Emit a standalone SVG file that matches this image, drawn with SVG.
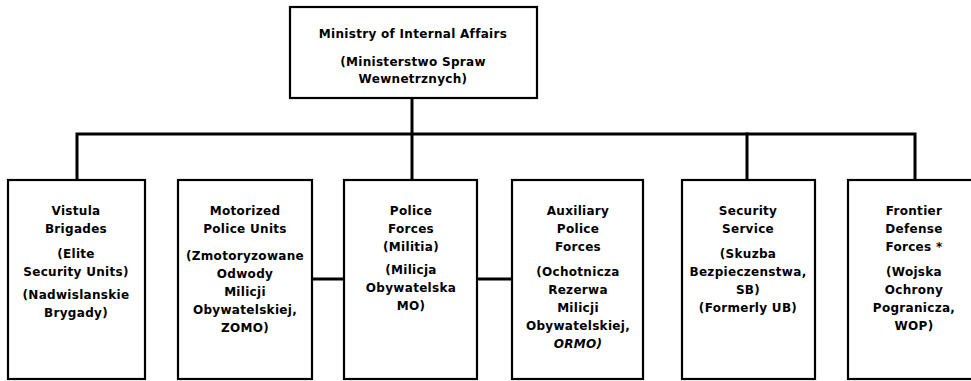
<svg xmlns="http://www.w3.org/2000/svg" width="971" height="381" viewBox="0 0 971 381">
<style>
.bg{fill:#fff}
.box{fill:#fff;stroke:#000;stroke-width:2.2}
.ln{fill:none;stroke:#000;stroke-width:3;stroke-linecap:square}
text{font-family:"DejaVu Sans","Liberation Sans",sans-serif;font-weight:bold;font-size:12px;fill:#000;text-anchor:middle;letter-spacing:0.3px}
.it{font-style:italic}
</style>
<rect class="bg" x="0" y="0" width="971" height="381"/>
<g id="connectors">
<path class="ln" d="M412,98 V180"/>
<path class="ln" d="M77,180 V134 H915 V180"/>
<path class="ln" d="M747,134 V180"/>
<path class="ln" d="M312,279 H344"/>
<path class="ln" d="M477,279 H512"/>
</g>
<g id="ministry">
<rect class="box" x="290" y="7" width="247" height="91"/>
<text x="413" y="38">Ministry of Internal Affairs</text>
<text x="413" y="66">(Ministerstwo Spraw</text>
<text x="413" y="83">Wewnetrznych)</text>
</g>
<g id="vistula">
<rect class="box" x="8" y="180" width="137" height="199"/>
<text x="76" y="215">Vistula</text>
<text x="76" y="233">Brigades</text>
<text x="76" y="258">(Elite</text>
<text x="76" y="276">Security Units)</text>
<text x="76" y="299">(Nadwislanskie</text>
<text x="76" y="317">Brygady)</text>
</g>
<g id="motorized">
<rect class="box" x="178" y="180" width="134" height="199"/>
<text x="245" y="215">Motorized</text>
<text x="245" y="233">Police Units</text>
<text x="245" y="260">(Zmotoryzowane</text>
<text x="245" y="278">Odwody</text>
<text x="245" y="296">Milicji</text>
<text x="245" y="314">Obywatelskiej,</text>
<text x="245" y="332">ZOMO)</text>
</g>
<g id="police">
<rect class="box" x="344" y="180" width="133" height="199"/>
<text x="411" y="215">Police</text>
<text x="411" y="233">Forces</text>
<text x="411" y="251">(Militia)</text>
<text x="411" y="274">(Milicja</text>
<text x="411" y="292">Obywatelska</text>
<text x="411" y="310">MO)</text>
</g>
<g id="auxiliary">
<rect class="box" x="512" y="180" width="131" height="199"/>
<text x="578" y="215">Auxiliary</text>
<text x="578" y="233">Police</text>
<text x="578" y="251">Forces</text>
<text x="578" y="276">(Ochotnicza</text>
<text x="578" y="294">Rezerwa</text>
<text x="578" y="312">Milicji</text>
<text x="578" y="330">Obywatelskiej,</text>
<text x="578" y="348" class="it">ORMO)</text>
</g>
<g id="security">
<rect class="box" x="682" y="180" width="133" height="199"/>
<text x="748" y="215">Security</text>
<text x="748" y="233">Service</text>
<text x="748" y="258">(Skuzba</text>
<text x="748" y="276">Bezpieczenstwa,</text>
<text x="748" y="294">SB)</text>
<text x="748" y="312">(Formerly UB)</text>
</g>
<g id="frontier">
<rect class="box" x="848" y="180" width="135" height="199"/>
<text x="914" y="215">Frontier</text>
<text x="914" y="233">Defense</text>
<text x="914" y="251">Forces *</text>
<text x="914" y="276">(Wojska</text>
<text x="914" y="294">Ochrony</text>
<text x="914" y="312">Pogranicza,</text>
<text x="914" y="330">WOP)</text>
</g>
</svg>
